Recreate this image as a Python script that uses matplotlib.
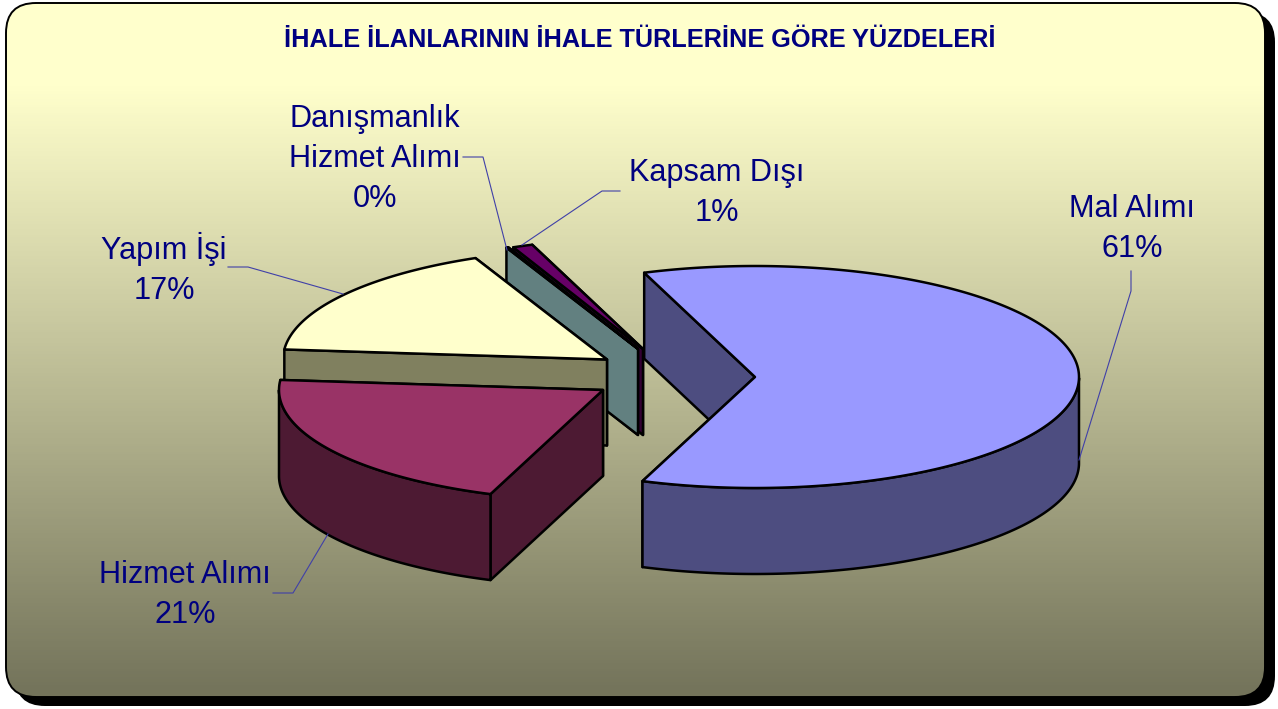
import numpy as np
import matplotlib
matplotlib.use('Agg')
import matplotlib.pyplot as plt
from matplotlib.patches import FancyBboxPatch, Polygon

title = 'İHALE İLANLARININ İHALE TÜRLERİNE GÖRE YÜZDELERİ'
names = ['Mal Alımı', 'Hizmet Alımı', 'Yapım İşi', 'Danışmanlık\nHizmet Alımı', 'Kapsam Dışı']
values = [61.2, 20.8, 16.9, 0.1, 1.0]

top_colors = ['#9999FF', '#993366', '#FFFFCC', '#CCFFFF', '#660066']
side_colors = ['#4D4D80', '#4D1A33', '#80805F', '#628080', '#330033']
# exploded centre of each slice, in pixels
centres = [(755, 377), (603, 390), (607, 359.5), (638, 349), (643, 349)]
label_pos = [(1132, 229), (185, 595), (164, 269), (375, 159), (717, 193)]
leaders = [
    [(1131, 271), (1131, 291), (1079, 460)],
    [(273, 593), (293, 593), (328, 534)],
    [(228, 267), (248, 267), (343, 294)],
    [(463, 157), (483, 157), (507, 250)],
    [(620, 191), (602, 191), (522, 245)],
]

rx, ry, depth = 324, 111, 86
start_angle = 110

plt.rcParams['font.family'] = ['Liberation Sans', 'DejaVu Sans']
fig = plt.figure(figsize=(12.78, 7.09), dpi=100)
ax = fig.add_axes([0, 0, 1, 1])

# panel: shadow, then gradient clipped to the rounded box
box = dict(boxstyle='round,pad=0,rounding_size=30')
ax.add_patch(FancyBboxPatch((15, 12), 1260, 694, fc='black', ec='none', **box))
panel = FancyBboxPatch((6, 3), 1259, 694, fc='none', ec='black', lw=1.4, zorder=2, **box)
ax.add_patch(panel)
ys = np.linspace(0, 1, 256)[:, None]
stops_y = [0, 0.12, 1]
r = np.interp(ys, stops_y, [255, 255, 115])
g = np.interp(ys, stops_y, [255, 255, 115])
b = np.interp(ys, stops_y, [204, 204, 90])
grad = np.dstack([r, g, b]).astype(np.uint8)
im = ax.imshow(grad, extent=(6, 1265, 697, 3), aspect='auto', zorder=1)
im.set_clip_path(panel)

ax.set_xlim(0, 1278)
ax.set_ylim(709, 0)
ax.axis('off')


def pt(c, a, dz=0):
    t = np.radians(a)
    return c[0] + rx*np.cos(t), c[1] - ry*np.sin(t) + dz


edge = dict(ec='black', lw=1.8, joinstyle='round')
bounds = start_angle - np.cumsum([0] + values)*3.6
slices = []
for i in range(len(values)):
    slices.append((i, bounds[i], bounds[i+1]))

# back to front
z = 5
for i, a1, a2 in [slices[4], slices[3], slices[2], slices[0], slices[1]]:
    c = centres[i]
    # radial faces, the one further back first
    for a in sorted([a1, a2], key=lambda v: np.sin(np.radians(-v))):
        p = pt(c, a)
        face = [c, p, (p[0], p[1] + depth), (c[0], c[1] + depth)]
        ax.add_patch(Polygon(face, fc=side_colors[i], zorder=z, **edge))
        z += 1
    # outer wall, front half only
    aa = np.linspace(a1, a2, 300)
    aa = aa[np.sin(np.radians(aa)) <= 0]
    if len(aa) > 1:
        upper = [pt(c, a) for a in aa]
        lower = [pt(c, a, depth) for a in aa[::-1]]
        ax.add_patch(Polygon(upper + lower, fc=side_colors[i], zorder=z, **edge))
        z += 1
    aa = np.linspace(a1, a2, 300)
    ax.add_patch(Polygon([c] + [pt(c, a) for a in aa], fc=top_colors[i], zorder=z, **edge))
    z += 1

for i in range(len(values)):
    xs, ys_ = zip(*leaders[i])
    ax.plot(xs, ys_, color='#4040A8', lw=0.8, zorder=100)
    ax.text(label_pos[i][0], label_pos[i][1], f'{names[i]}\n{values[i]:.0f}%',
            color='#000080', fontsize=22.1, ha='center', va='center',
            linespacing=1.45, zorder=101)

ax.text(640, 40, title, color='#000080', fontsize=18.2, fontweight='bold',
        ha='center', va='center', zorder=101)

fig.savefig('out.png', dpi=100)
